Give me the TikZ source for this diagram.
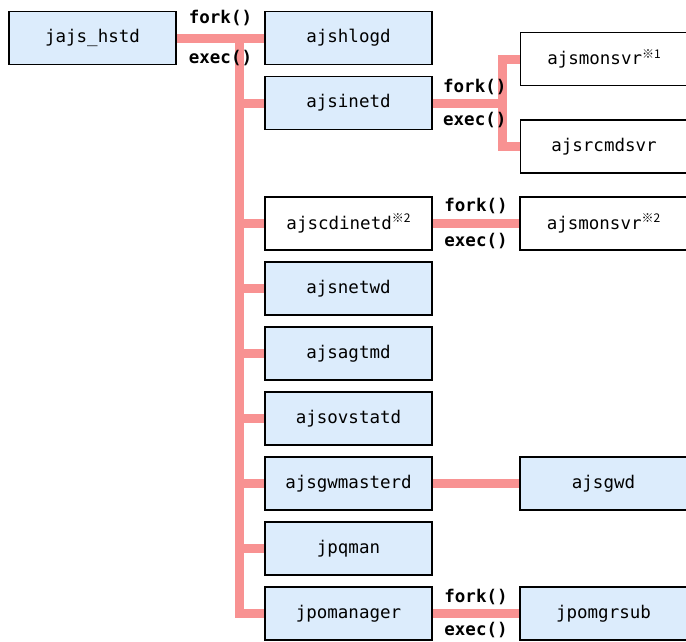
\documentclass[tikz,border=0pt]{standalone}
\usepackage{fontspec}
\setmonofont{DejaVu Sans Mono}
\newfontfamily\refmark{Noto Sans CJK JP}
\usetikzlibrary{positioning}
\definecolor{procblue}{RGB}{220,236,252}
\definecolor{linkpink}{RGB}{248,146,146}
\newcommand{\note}[1]{\raisebox{0.38em}{\refmark\fontsize{12}{12}\selectfont ※#1}}

\begin{document}
\begin{tikzpicture}[x=1pt,y=-1pt,
					node distance=10.5pt,
					font=\ttfamily\fontsize{17.5}{20}\selectfont,
					proc/.style={draw,line width=1.5pt,minimum width=167pt,minimum height=53pt,inner sep=0pt},
					main node/.style={proc,fill=procblue},
					sub node/.style={proc,fill=white},
					link/.style={draw=linkpink,line width=9pt},
					call/.style={font=\ttfamily\bfseries\fontsize{17.5}{18}\selectfont,inner sep=0pt,outer sep=0pt}]
  \useasboundingbox (0,0) rectangle (686,641);

  % left column
  \node[main node] (hstd) at (92.5,38) {jajs\_hstd};
  \node[main node] (hlogd) at (348.5,38) {ajshlogd};
  \node[main node] (inetd) [below=of hlogd] {ajsinetd};
  \node[sub node] (cdinetd) [below=66pt of inetd] {ajscdinetd\note{2}};
  \node[main node] (netwd) [below=of cdinetd] {ajsnetwd};
  \node[main node] (agtmd) [below=of netwd] {ajsagtmd};
  \node[main node] (ovstatd) [below=of agtmd] {ajsovstatd};
  \node[main node] (gwmasterd) [below=of ovstatd] {ajsgwmasterd};
  \node[main node] (jpqman) [below=of gwmasterd] {jpqman};
  \node[main node] (jpomanager) [below=of jpqman] {jpomanager};

  % right column
  \node[sub node] (monsvr1) at (604,59) {ajsmonsvr\note{1}};
  \node[sub node] (rcmdsvr) at (604,146.5) {ajsrcmdsvr};
  \node[sub node] (monsvr2) [right=86.5pt of cdinetd] {ajsmonsvr\note{2}};
  \node[main node] (gwd) [right=86.5pt of gwmasterd] {ajsgwd};
  \node[main node] (mgrsub) [right=86.5pt of jpomanager] {jpomgrsub};

  \coordinate (trunk) at (239,38);
  \coordinate[right=70pt of inetd.east] (split);

  \draw[link] (trunk) |- (jpomanager.west);
  \foreach \n in {inetd,cdinetd,netwd,agtmd,ovstatd,gwmasterd,jpqman}
    \draw[link] (trunk |- \n.west) -- (\n.west);
  \draw[link] (monsvr1.west) -| (split) |- (rcmdsvr.west);

  \path[link]
    (hstd) edge node[call,above=12pt] {fork()} node[call,below=12pt] {exec()} (hlogd)
    (inetd) edge node[call,above=8pt,pos=.6] {fork()} node[call,below=9pt,pos=.6] {exec()} (split)
    (cdinetd) edge node[call,above=10pt] {fork()} node[call,below=10pt] {exec()} (monsvr2)
    (gwmasterd) edge (gwd)
    (jpomanager) edge node[call,above=9pt] {fork()} node[call,below=9pt] {exec()} (mgrsub)
;
\end{tikzpicture}
\end{document}
